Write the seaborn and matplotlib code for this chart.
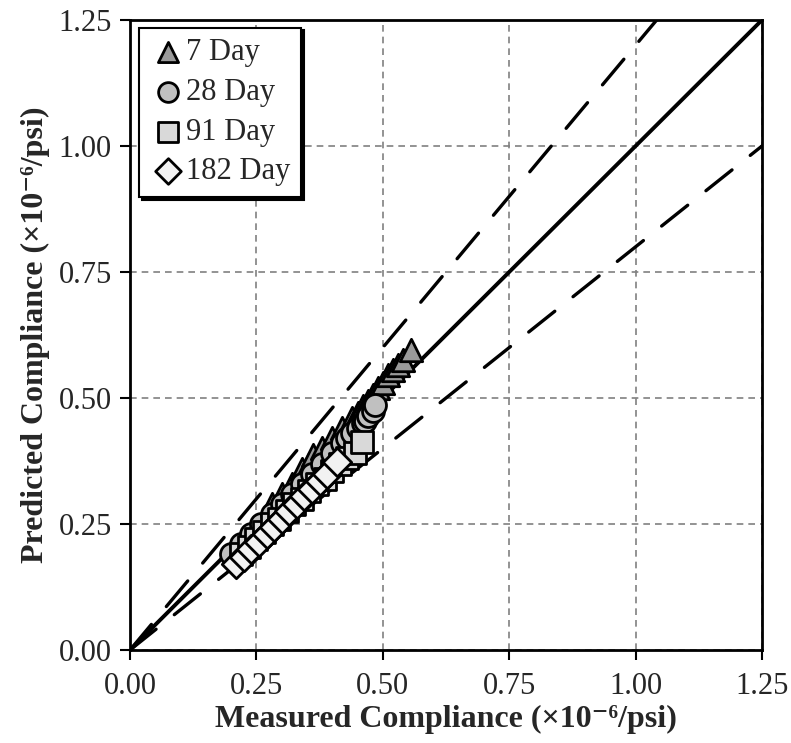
import matplotlib
matplotlib.use("Agg")
import matplotlib.pyplot as plt
import seaborn as sns
import pandas as pd

# Measured vs. predicted compliance (x10^-6/psi) by loading age
day7_measured = [0.28, 0.30, 0.32, 0.34, 0.355, 0.362, 0.38, 0.40, 0.42, 0.44, 0.45,
                 0.46, 0.47, 0.48, 0.49, 0.50, 0.51, 0.52, 0.53, 0.54, 0.555]
day7_predicted = [0.29, 0.31, 0.33, 0.36, 0.37, 0.387, 0.40, 0.42, 0.44, 0.46, 0.47,
                  0.485, 0.495, 0.505, 0.52, 0.53, 0.545, 0.555, 0.565, 0.575, 0.595]

day28_measured = [0.20, 0.22, 0.24, 0.26, 0.28, 0.30, 0.32, 0.34, 0.36, 0.38, 0.40,
                  0.42, 0.43, 0.44, 0.45, 0.46, 0.465, 0.47, 0.48, 0.485]
day28_predicted = [0.19, 0.21, 0.23, 0.25, 0.27, 0.29, 0.31, 0.33, 0.35, 0.37, 0.39,
                   0.41, 0.42, 0.43, 0.44, 0.45, 0.455, 0.465, 0.475, 0.486]

day91_measured = [0.22, 0.235, 0.25, 0.265, 0.28, 0.295, 0.31, 0.325, 0.34, 0.355,
                  0.37, 0.385, 0.40, 0.415, 0.43, 0.445, 0.459]
day91_predicted = [0.19, 0.205, 0.22, 0.235, 0.25, 0.26, 0.275, 0.29, 0.30, 0.315,
                   0.33, 0.34, 0.355, 0.37, 0.38, 0.39, 0.413]

day182_measured = [0.21, 0.225, 0.24, 0.255, 0.27, 0.285, 0.30, 0.315, 0.33, 0.345,
                   0.36, 0.375, 0.39, 0.41]
day182_predicted = [0.17, 0.185, 0.20, 0.215, 0.23, 0.245, 0.26, 0.275, 0.29, 0.305,
                    0.32, 0.335, 0.35, 0.373]

# Line of equality and +/-20 % bounds
bound_x = [0.0, 1.25]
equality_y = [0.0, 1.25]
upper_y = [0.0, 1.5]
lower_y = [0.0, 1.0]

tick_values = [0.00, 0.25, 0.50, 0.75, 1.00, 1.25]

sns.set_style("white")
plt.rcParams["font.family"] = ["Liberation Serif", "DejaVu Serif"]

fig = plt.figure(figsize=(7.91, 7.43), dpi=100)
ax = fig.add_axes([130 / 791, 1 - 650 / 743, 632 / 791, 630 / 743])

# reference lines
ax.plot(bound_x, equality_y, color="black", lw=2.8, zorder=2, solid_capstyle="butt")
for yy in (upper_y, lower_y):
    ln, = ax.plot(bound_x, yy, color="black", lw=2.4, zorder=2,
                  dash_capstyle="round")
    ln.set_dashes([10, 7])

series = [
    ("7 Day", day7_measured, day7_predicted, "^", "#9a9a9a", 260),
    ("28 Day", day28_measured, day28_predicted, "o", "#c0c0c0", 250),
    ("91 Day", day91_measured, day91_predicted, "s", "#d9d9d9", 250),
    ("182 Day", day182_measured, day182_predicted, "D", "#f2f2f2", 210),
]
for label, xs, ys, mk, fc, size in series:
    df = pd.DataFrame({"Measured": xs, "Predicted": ys})
    sns.scatterplot(data=df, x="Measured", y="Predicted", marker=mk, color=fc,
                    edgecolor="black", linewidth=2.0, s=size, ax=ax,
                    label=label, zorder=3)

ax.set_xlim(0, 1.25)
ax.set_ylim(0, 1.25)
ax.set_xticks(tick_values)
ax.set_yticks(tick_values)
ax.set_xticklabels([f"{v:.2f}" for v in tick_values])
ax.set_yticklabels([f"{v:.2f}" for v in tick_values])
ax.tick_params(axis="both", direction="out", length=7, width=1.5, color="black",
               labelsize=22, bottom=True, left=True)
ax.tick_params(axis="x", pad=9)
ax.tick_params(axis="y", pad=6)

ax.grid(True, color="#808080", linestyle=(0, (4, 3)), linewidth=1.2)
ax.set_axisbelow(True)
for sp in ax.spines.values():
    sp.set_color("black")
    sp.set_linewidth(2)

ax.set_xlabel("Measured Compliance (×10⁻⁶/psi)",
              fontsize=23, fontweight="bold", labelpad=3)
ax.set_ylabel("Predicted Compliance (×10⁻⁶/psi)",
              fontsize=23, fontweight="bold", labelpad=6)

leg = ax.legend(loc="upper left", bbox_to_anchor=(0.014, 0.988), fontsize=22,
                frameon=True, fancybox=False, framealpha=1, edgecolor="black",
                handletextpad=0.0, handlelength=1.2, borderpad=0.35,
                labelspacing=0.35, borderaxespad=0, markerscale=0.9,
                shadow={"color": "black", "alpha": 1})
leg.get_frame().set_linewidth(1.5)

fig.savefig("out.png", dpi=100)
